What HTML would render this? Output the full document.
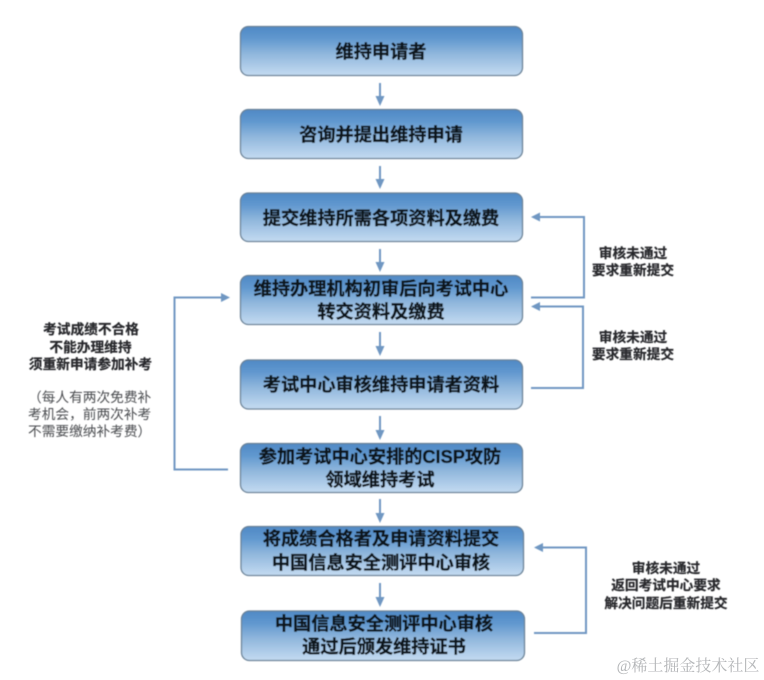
<!DOCTYPE html>
<html lang="zh">
<head>
<meta charset="utf-8">
<style>
html,body{margin:0;padding:0;background:#fff}
svg{display:block}
text{font-family:"Liberation Sans","Noto Sans CJK SC",sans-serif;text-anchor:middle}
.b{font-size:18.2px;font-weight:700;fill:#10151c;stroke:#10151c;stroke-width:.35}
.s{font-size:13.7px;font-weight:700;fill:#26282b;stroke:#26282b;stroke-width:.2}
.n{font-size:13.7px;fill:#4a4c4f;text-anchor:start}
.w{font-size:16px;fill:#b4b6b8;font-family:"Liberation Serif","Noto Serif CJK SC",serif}
.box{fill:url(#g);stroke:#6b8297;stroke-width:1.3}
.l{fill:none;stroke:#6f97c2;stroke-width:2}
.a{fill:#6f97c2}
</style>
</head>
<body>
<svg width="764" height="680" viewBox="0 0 764 680" xmlns="http://www.w3.org/2000/svg">
<defs>
<linearGradient id="g" x1="0" y1="0" x2="0" y2="1">
<stop offset="0" stop-color="#4f89c5"/>
<stop offset=".25" stop-color="#6198cf"/>
<stop offset=".55" stop-color="#8fb6dc"/>
<stop offset="1" stop-color="#c4dbf1"/>
</linearGradient>
<filter id="f" x="-5%" y="-5%" width="110%" height="110%"><feGaussianBlur stdDeviation="0.5"/></filter>
</defs>
<rect width="764" height="680" fill="#fff"/>
<g filter="url(#f)">
<rect class="box" x="240.5" y="26.5" width="282" height="49" rx="8"/>
<rect class="box" x="240.5" y="109.5" width="282" height="49" rx="8"/>
<rect class="box" x="240.5" y="193" width="282" height="48.5" rx="8"/>
<rect class="box" x="240.5" y="275.5" width="282" height="49" rx="8"/>
<rect class="box" x="240.5" y="360" width="282" height="49" rx="8"/>
<rect class="box" x="240.5" y="443.5" width="282" height="49" rx="8"/>
<rect class="box" x="241" y="526.5" width="282.5" height="49" rx="8"/>
<rect class="box" x="241.500" y="611" width="283" height="49.5" rx="8"/>

<path class="l" d="M380 83V98M380 166V181M380 249V264M380 332V348M380 416V432M380 499V515M380 583V599"/>
<path class="a" d="M375.500 96H384.500L380 106ZM375.500 179H384.500L380 189ZM375.500 262H384.500L380 272ZM375.500 346H384.500L380 356ZM375.500 430H384.500L380 440ZM375.500 513H384.500L380 523ZM375.500 597H384.500L380 607Z"/>

<path class="l" d="M531 297.500H584V217H538"/>
<path class="a" d="M531 217L540 212.500V221.500Z"/>
<path class="l" d="M531 388H583V306.500H538"/>
<path class="a" d="M531 306.500L540 302V311Z"/>
<path class="l" d="M534 633H586V547.500H541"/>
<path class="a" d="M534 547.500L543 543V552Z"/>
<path class="l" d="M228 469.500H174.500V297.500H222"/>
<path class="a" d="M230 297.500L221 293V302Z"/>

<text class="b" x="381" y="58">维持申请者</text>
<text class="b" x="381" y="141">咨询并提出维持申请</text>
<text class="b" x="381" y="224.500">提交维持所需各项资料及缴费</text>
<text class="b" x="381" y="295">维持办理机构初审后向考试中心</text>
<text class="b" x="381" y="318">转交资料及缴费</text>
<text class="b" x="381" y="391">考试中心审核维持申请者资料</text>
<text class="b" x="380" y="463">参加考试中心安排的CISP攻防</text>
<text class="b" x="380" y="486">领域维持考试</text>
<text class="b" x="381" y="545">将成绩合格者及申请资料提交</text>
<text class="b" x="381" y="569">中国信息安全测评中心审核</text>
<text class="b" x="384" y="630">中国信息安全测评中心审核</text>
<text class="b" x="384" y="653">通过后颁发维持证书</text>

<text class="s" x="633" y="258">审核未通过</text>
<text class="s" x="633" y="275">要求重新提交</text>
<text class="s" x="633" y="342">审核未通过</text>
<text class="s" x="633" y="359">要求重新提交</text>
<text class="s" x="666" y="573">审核未通过</text>
<text class="s" x="666" y="590">返回考试中心要求</text>
<text class="s" x="666" y="608">解决问题后重新提交</text>

<text class="s" x="91" y="334">考试成绩不合格</text>
<text class="s" x="90.500" y="352">不能办理维持</text>
<text class="s" x="90.500" y="369">须重新申请参加补考</text>
<text class="n" x="28" y="402">（每人有两次免费补</text>
<text class="n" x="28" y="419">考机会，前两次补考</text>
<text class="n" x="28" y="436">不需要缴纳补考费）</text>
</g>
<text class="w" x="688" y="671">@稀土掘金技术社区</text>
</svg>
</body>
</html>
